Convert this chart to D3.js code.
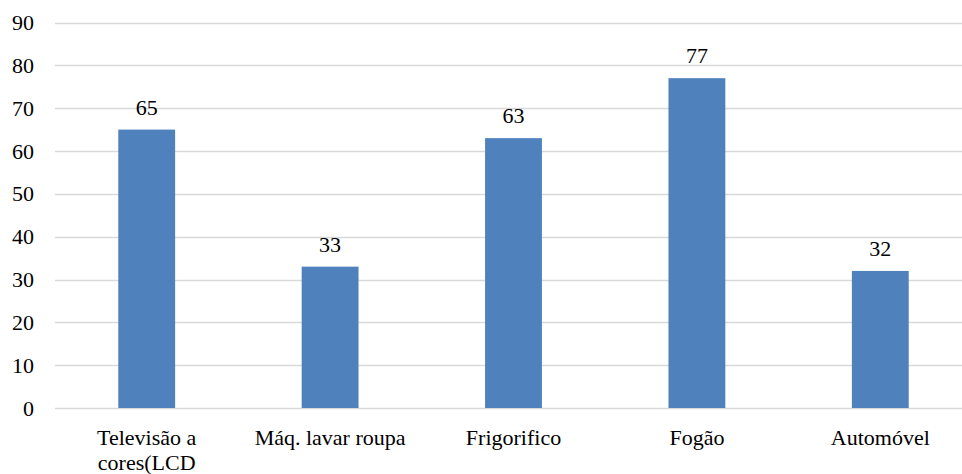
<!DOCTYPE html>
<html>
<head>
<meta charset="utf-8">
<script src="https://cdn.jsdelivr.net/npm/d3@7/dist/d3.min.js"></script>
</head>
<body style="margin:0">
<svg id="chart" width="962" height="474"></svg>
<script>
// Household goods counts
const categories = ["Televisão a cores(LCD", "Máq. lavar roupa", "Frigorifico", "Fogão", "Automóvel"];
const values = [65, 33, 63, 77, 32];
const yTicks = [0, 10, 20, 30, 40, 50, 60, 70, 80, 90];

const svg = d3.select("#chart");
const plotLeft = 55, plotRight = 972, plotTop = 22.5, plotBottom = 408;
const fam = '"Times New Roman"';
const size = "22px";

const x = d3.scaleBand().domain(categories).range([plotLeft, plotRight]).padding(0);
const y = d3.scaleLinear().domain([0, 90]).range([plotBottom, plotTop]);
const barW = x.bandwidth() * 0.31;

// Horizontal gridlines
yTicks.forEach(t => {
  svg.append("line")
    .attr("x1", plotLeft).attr("x2", plotRight)
    .attr("y1", Math.round(y(t)) + 0.5)
    .attr("y2", Math.round(y(t)) + 0.5)
    .attr("stroke", "#d9d9d9")
    .attr("stroke-width", 1.3);
});

// Y axis labels
yTicks.forEach(t => {
  svg.append("text")
    .attr("x", 34)
    .attr("y", y(t) + 7.5)
    .attr("text-anchor", "end")
    .style("font-family", fam)
    .style("font-size", size)
    .text(t);
});

// Bars and value labels
values.forEach((v, i) => {
  const cx = x(categories[i]) + x.bandwidth() / 2;
  svg.append("rect")
    .attr("x", cx - barW / 2)
    .attr("y", y(v))
    .attr("width", barW)
    .attr("height", y(0) - y(v))
    .attr("fill", "#4f81bd");
  svg.append("text")
    .attr("x", cx)
    .attr("y", y(v) - 15)
    .attr("text-anchor", "middle")
    .style("font-family", fam)
    .style("font-size", size)
    .text(v);
});

// Category labels, wrapped to the band width
categories.forEach(name => {
  const cx = x(name) + x.bandwidth() / 2;
  const words = name.split(" ");
  const lines = [];
  let line = [];
  const probe = svg.append("text").style("font-family", fam).style("font-size", size);
  words.forEach(w => {
    const trial = line.concat([w]);
    probe.text(trial.join(" "));
    if (probe.node().getComputedTextLength() > x.bandwidth() * 0.95 && line.length) {
      lines.push(line.join(" "));
      line = [w];
    } else {
      line = trial;
    }
  });
  lines.push(line.join(" "));
  probe.remove();
  lines.forEach((l, k) => {
    svg.append("text")
      .attr("x", cx)
      .attr("y", 445 + k * 25)
      .attr("text-anchor", "middle")
      .style("font-family", fam)
      .style("font-size", size)
      .text(l);
  });
});
</script>
</body>
</html>
